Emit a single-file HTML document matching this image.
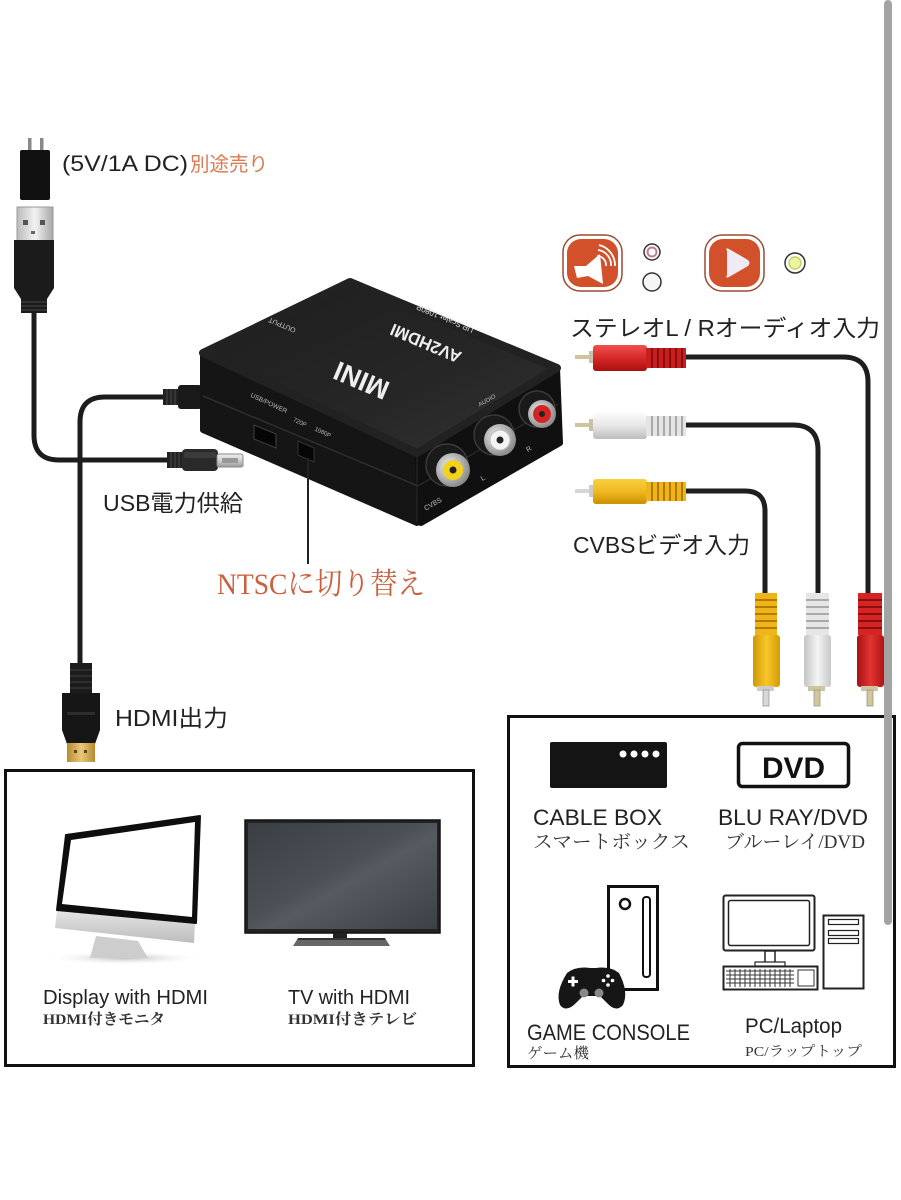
<!DOCTYPE html>
<html><head><meta charset="utf-8"><style>
html,body{margin:0;padding:0;background:#fff;}
svg{display:block;}
.s{font-family:"Liberation Sans","Noto Sans CJK JP",sans-serif;}
.m{font-family:"Liberation Serif","Noto Serif CJK SC",serif;}
</style></head><body>
<svg width="901" height="1200" viewBox="0 0 901 1200" xmlns="http://www.w3.org/2000/svg">
<defs>
<linearGradient id="redV" x1="0" y1="0" x2="0" y2="1"><stop offset="0" stop-color="#f05050"/><stop offset=".5" stop-color="#d82828"/><stop offset="1" stop-color="#a81010"/></linearGradient>
<linearGradient id="whiteV" x1="0" y1="0" x2="0" y2="1"><stop offset="0" stop-color="#fafafa"/><stop offset=".5" stop-color="#e6e6e6"/><stop offset="1" stop-color="#bdbdbd"/></linearGradient>
<linearGradient id="yelV" x1="0" y1="0" x2="0" y2="1"><stop offset="0" stop-color="#f8d040"/><stop offset=".5" stop-color="#f0b820"/><stop offset="1" stop-color="#c99000"/></linearGradient>
<linearGradient id="redH" x1="0" y1="0" x2="1" y2="0"><stop offset="0" stop-color="#a81010"/><stop offset=".5" stop-color="#e23434"/><stop offset="1" stop-color="#b01414"/></linearGradient>
<linearGradient id="whiteH" x1="0" y1="0" x2="1" y2="0"><stop offset="0" stop-color="#c4c4c4"/><stop offset=".5" stop-color="#f4f4f4"/><stop offset="1" stop-color="#c8c8c8"/></linearGradient>
<linearGradient id="yelH" x1="0" y1="0" x2="1" y2="0"><stop offset="0" stop-color="#d09800"/><stop offset=".5" stop-color="#f6c62c"/><stop offset="1" stop-color="#d49c00"/></linearGradient>
<linearGradient id="metal" x1="0" y1="0" x2="0" y2="1"><stop offset="0" stop-color="#f0f0f0"/><stop offset=".5" stop-color="#cfcfcf"/><stop offset="1" stop-color="#9a9a9a"/></linearGradient>
<linearGradient id="metalH" x1="0" y1="0" x2="1" y2="0"><stop offset="0" stop-color="#bbb"/><stop offset=".5" stop-color="#f2f2f2"/><stop offset="1" stop-color="#a8a8a8"/></linearGradient>
<linearGradient id="gold" x1="0" y1="0" x2="1" y2="0"><stop offset="0" stop-color="#b88a30"/><stop offset=".5" stop-color="#e8c878"/><stop offset="1" stop-color="#b88a30"/></linearGradient>
<linearGradient id="topF" x1="0" y1="0" x2="1" y2="1"><stop offset="0" stop-color="#1e1e1e"/><stop offset=".6" stop-color="#262626"/><stop offset="1" stop-color="#333"/></linearGradient>
<linearGradient id="tvG" x1="0" y1="0" x2="1" y2="1"><stop offset="0" stop-color="#3a3f44"/><stop offset=".45" stop-color="#4a5056"/><stop offset=".55" stop-color="#555b61"/><stop offset="1" stop-color="#3c4146"/></linearGradient>
<linearGradient id="chin" x1="0" y1="0" x2="0" y2="1"><stop offset="0" stop-color="#e6e6e6"/><stop offset="1" stop-color="#bcbcbc"/></linearGradient>
<radialGradient id="shadow" cx=".5" cy=".5" r=".5"><stop offset="0" stop-color="#bbb"/><stop offset="1" stop-color="#fff" stop-opacity="0"/></radialGradient>
<radialGradient id="ring" cx=".4" cy=".4" r=".6"><stop offset="0" stop-color="#f5f5f5"/><stop offset="1" stop-color="#8a8a8a"/></radialGradient>
</defs>
<rect width="901" height="1200" fill="#fff"/>

<!-- ===== Power adapter + USB A ===== -->
<rect x="28" y="138" width="3.5" height="14" fill="#888"/>
<rect x="40" y="138" width="3.5" height="14" fill="#888"/>
<rect x="20" y="150" width="30" height="50" rx="2" fill="#111"/>
<rect x="17" y="207" width="36" height="34" fill="url(#metalH)" stroke="#999" stroke-width="1"/>
<rect x="23" y="220" width="5" height="5" fill="#555"/>
<rect x="40" y="220" width="5" height="5" fill="#555"/>
<rect x="31" y="231" width="4" height="3" fill="#666"/>
<path d="M14,240 L54,240 L54,288 L47,299 L47,313 L21,313 L21,299 L14,288 Z" fill="#1b1b1b"/>
<g stroke="#3a3a3a" stroke-width="1.5"><line x1="21" y1="302" x2="47" y2="302"/><line x1="21" y1="306" x2="47" y2="306"/><line x1="21" y1="310" x2="47" y2="310"/></g>
<text class="s" x="62" y="171" font-size="22" fill="#222" textLength="126" lengthAdjust="spacingAndGlyphs">(5V/1A DC)</text>
<text class="s" x="190" y="171" font-size="20" fill="#dc7a52" textLength="78" lengthAdjust="spacingAndGlyphs">別途売り</text>

<!-- USB power cable -->
<path d="M34,313 L34,435 Q34,460 59,460 L168,460" fill="none" stroke="#1c1c1c" stroke-width="5"/>
<rect x="167" y="452" width="16" height="16" fill="#222"/>
<g stroke="#444" stroke-width="1.2"><line x1="171" y1="452" x2="171" y2="468"/><line x1="175" y1="452" x2="175" y2="468"/><line x1="179" y1="452" x2="179" y2="468"/></g>
<rect x="182" y="449" width="36" height="22" rx="4" fill="#2a2a2a"/>
<rect x="184" y="452" width="32" height="6" rx="2" fill="#3c3c3c"/>
<rect x="217" y="454" width="26" height="13" rx="2" fill="url(#metal)" stroke="#888" stroke-width="1"/>
<rect x="222" y="458" width="16" height="5" fill="#999"/>

<!-- HDMI cable -->
<path d="M165,397 L105,397 Q80,397 80,422 L80,665" fill="none" stroke="#1c1c1c" stroke-width="5"/>
<rect x="163" y="389" width="16" height="16" fill="#222"/>
<g stroke="#444" stroke-width="1.2"><line x1="167" y1="389" x2="167" y2="405"/><line x1="171" y1="389" x2="171" y2="405"/><line x1="175" y1="389" x2="175" y2="405"/></g>
<rect x="178" y="385" width="24" height="24" rx="3" fill="#1a1a1a"/>
<rect x="70" y="663" width="22" height="31" fill="#1c1c1c"/>
<g stroke="#3a3a3a" stroke-width="1.3"><line x1="70" y1="670" x2="92" y2="670"/><line x1="70" y1="676" x2="92" y2="676"/><line x1="70" y1="682" x2="92" y2="682"/><line x1="70" y1="688" x2="92" y2="688"/></g>
<path d="M62,693 L100,693 L100,730 L95,744 L67,744 L62,730 Z" fill="#161616"/>
<rect x="67" y="712" width="28" height="3" fill="#2e2e2e"/>
<rect x="67" y="743" width="28" height="19" fill="url(#gold)"/>
<rect x="74" y="750" width="3" height="3" fill="#5a4a20"/><rect x="84" y="750" width="3" height="3" fill="#5a4a20"/>

<text class="s" x="103" y="511" font-size="23" fill="#222" textLength="140" lengthAdjust="spacingAndGlyphs">USB電力供給</text>
<text class="s" x="115" y="726" font-size="23" fill="#222" textLength="113" lengthAdjust="spacingAndGlyphs">HDMI出力</text>

<!-- ===== Device ===== -->
<g stroke-linejoin="round">
<polygon points="203,353 417,453 417,523 203,430" fill="#151515" stroke="#151515" stroke-width="6"/>
<polygon points="417,453 557,368 560,443 421,523" fill="#101010" stroke="#101010" stroke-width="6"/>
<polygon points="203,353 350,282 557,368 417,453" fill="url(#topF)" stroke="#222" stroke-width="8"/>
</g>
<line x1="203" y1="396" x2="418" y2="486" stroke="#2e2e2e" stroke-width="1.5"/>
<line x1="418" y1="486" x2="558" y2="404" stroke="#262626" stroke-width="1.5"/>
<line x1="417" y1="455" x2="417" y2="522" stroke="#2a2a2a" stroke-width="1"/>
<!-- top labels (upside down) -->
<text class="s" transform="translate(365,372) rotate(203)" text-anchor="middle" font-size="27" font-weight="bold" fill="#eee">MINI</text>
<text class="s" transform="translate(428,338) rotate(203)" text-anchor="middle" font-size="17" font-weight="bold" fill="#eee">AV2HDMI</text>
<text class="s" transform="translate(446,316) rotate(203)" text-anchor="middle" font-size="8" fill="#ddd">UP Scaler 1080P</text>
<text class="s" transform="translate(283,323) rotate(203)" text-anchor="middle" font-size="7" fill="#ccc">OUTPUT</text>
<text class="s" transform="translate(268,405) rotate(25)" text-anchor="middle" font-size="6.5" fill="#bbb">USB/POWER</text>
<text class="s" transform="translate(299,424) rotate(25)" text-anchor="middle" font-size="6" fill="#bbb">720P</text>
<text class="s" transform="translate(322,434) rotate(25)" text-anchor="middle" font-size="6" fill="#bbb">1080P</text>
<text class="s" transform="translate(488,402) rotate(-30)" text-anchor="middle" font-size="6" fill="#bbb">AUDIO</text>
<text class="s" transform="translate(434,506) rotate(-30)" text-anchor="middle" font-size="7" fill="#bbb">CVBS</text>
<text class="s" transform="translate(484,480) rotate(-30)" text-anchor="middle" font-size="7" fill="#bbb">L</text>
<text class="s" transform="translate(530,451) rotate(-30)" text-anchor="middle" font-size="7" fill="#bbb">R</text>
<!-- ports -->
<polygon points="254,425 276,434 276,448 254,439" fill="#050505" stroke="#3a3a3a" stroke-width="1.2"/>
<polygon points="298,441 314,448 314,462 298,455" fill="#050505" stroke="#333" stroke-width="1"/>
<!-- jacks -->
<circle cx="447" cy="465" r="21" fill="#1a1a1a" stroke="#3a3a3a" stroke-width="1.5"/>
<circle cx="453" cy="470" r="17" fill="url(#ring)"/>
<circle cx="453" cy="470" r="10" fill="#f3d21c"/>
<circle cx="453" cy="470" r="3.5" fill="#222"/>
<circle cx="494" cy="435" r="20" fill="#1a1a1a" stroke="#3a3a3a" stroke-width="1.5"/>
<circle cx="500" cy="440" r="16" fill="url(#ring)"/>
<circle cx="500" cy="440" r="10" fill="#f4f4f4" stroke="#bbb" stroke-width="1"/>
<circle cx="500" cy="440" r="3.5" fill="#222"/>
<circle cx="537" cy="409" r="18" fill="#1a1a1a" stroke="#3a3a3a" stroke-width="1.5"/>
<circle cx="542" cy="414" r="14" fill="url(#ring)"/>
<circle cx="542" cy="414" r="9" fill="#d42424"/>
<circle cx="542" cy="414" r="3" fill="#222"/>

<!-- NTSC pointer -->
<line x1="308" y1="458" x2="308" y2="564" stroke="#222" stroke-width="2"/>
<text class="m" x="217" y="594" font-size="30" fill="#c9603f" textLength="208" lengthAdjust="spacingAndGlyphs">NTSCに切り替え</text>

<!-- ===== Icons ===== -->
<rect x="563" y="235" width="59" height="56" rx="17" fill="#fff" stroke="#9c4a34" stroke-width="1.5"/>
<rect x="567" y="239" width="51" height="48" rx="14" fill="#d2512b"/>
<polygon points="574,266 586,266 600,254 603,284 588,276 577,278" fill="#fff"/>
<g fill="none" stroke="#fff" stroke-width="1.8">
<path d="M597,256 A9,9 0 0 1 606,266"/>
<path d="M598,250 A15,15 0 0 1 611,266"/>
<path d="M599,245 A21,21 0 0 1 615,266"/>
</g>
<circle cx="652" cy="252" r="8" fill="#fff" stroke="#333" stroke-width="1.5"/>
<circle cx="652" cy="252" r="4.5" fill="#fff" stroke="#c87890" stroke-width="2"/>
<circle cx="652" cy="282" r="9" fill="#f6f6f6" stroke="#333" stroke-width="1.5"/>
<rect x="705" y="235" width="59" height="56" rx="17" fill="#fff" stroke="#9c4a34" stroke-width="1.5"/>
<rect x="709" y="239" width="51" height="48" rx="14" fill="#d2512b"/>
<path d="M727,251 Q725,247 729,249 L748,260 Q751,263 748,266 L729,277 Q725,279 727,275 Z" fill="#efeaf4"/>
<circle cx="795" cy="263" r="10" fill="#fff" stroke="#333" stroke-width="1.5"/>
<circle cx="795" cy="263" r="6" fill="#eef5a0" stroke="#c8d060" stroke-width="1.5"/>

<text class="s" x="570" y="336" font-size="23" fill="#222" textLength="310" lengthAdjust="spacingAndGlyphs">ステレオL / Rオーディオ入力</text>
<text class="s" x="573" y="553" font-size="23" fill="#222" textLength="177" lengthAdjust="spacingAndGlyphs">CVBSビデオ入力</text>

<!-- ===== RCA cables ===== -->
<g fill="none" stroke="#1e1e1e" stroke-width="5">
<path d="M684,357 L843,357 Q868,357 868,382 L868,595"/>
<path d="M684,425 L793,425 Q818,425 818,450 L818,595"/>
<path d="M684,491 L745,491 Q765,491 765,511 L765,595"/>
</g>
<!-- horizontal plugs -->
<g>
<rect x="575" y="355" width="17" height="4" fill="#cfc4a0"/><rect x="589" y="351" width="5" height="12" fill="#c8c0a8"/>
<rect x="593" y="345" width="54" height="26" rx="3" fill="url(#redV)"/>
<rect x="646" y="348" width="40" height="20" fill="#c81e1e"/>
<g stroke="#8a0e0e" stroke-width="2"><line x1="652" y1="348" x2="652" y2="368"/><line x1="658" y1="348" x2="658" y2="368"/><line x1="664" y1="348" x2="664" y2="368"/><line x1="670" y1="348" x2="670" y2="368"/><line x1="676" y1="348" x2="676" y2="368"/><line x1="682" y1="348" x2="682" y2="368"/></g>

<rect x="575" y="423" width="17" height="4" fill="#cfc4a0"/><rect x="589" y="419" width="5" height="12" fill="#c8c0a8"/>
<rect x="593" y="413" width="54" height="26" rx="3" fill="url(#whiteV)"/>
<rect x="646" y="416" width="40" height="20" fill="#e4e4e4"/>
<g stroke="#a8a8a8" stroke-width="2"><line x1="652" y1="416" x2="652" y2="436"/><line x1="658" y1="416" x2="658" y2="436"/><line x1="664" y1="416" x2="664" y2="436"/><line x1="670" y1="416" x2="670" y2="436"/><line x1="676" y1="416" x2="676" y2="436"/><line x1="682" y1="416" x2="682" y2="436"/></g>

<rect x="575" y="489" width="17" height="4" fill="#d6d6d6"/><rect x="589" y="485" width="5" height="12" fill="#ccc"/>
<rect x="593" y="479" width="54" height="25" rx="3" fill="url(#yelV)"/>
<rect x="646" y="482" width="40" height="19" fill="#eeb418"/>
<g stroke="#b07a00" stroke-width="2"><line x1="652" y1="482" x2="652" y2="501"/><line x1="658" y1="482" x2="658" y2="501"/><line x1="664" y1="482" x2="664" y2="501"/><line x1="670" y1="482" x2="670" y2="501"/><line x1="676" y1="482" x2="676" y2="501"/><line x1="682" y1="482" x2="682" y2="501"/></g>
</g>
<!-- vertical plugs -->
<g>
<rect x="755" y="593" width="22" height="42" fill="#efb418"/>
<g stroke="#b07a00" stroke-width="2"><line x1="755" y1="600" x2="777" y2="600"/><line x1="755" y1="607" x2="777" y2="607"/><line x1="755" y1="614" x2="777" y2="614"/><line x1="755" y1="621" x2="777" y2="621"/><line x1="755" y1="628" x2="777" y2="628"/></g>
<rect x="753" y="635" width="27" height="52" rx="3" fill="url(#yelH)"/>
<rect x="757" y="686" width="17" height="5" fill="#ccc"/>
<rect x="763" y="690" width="6" height="16" fill="#d8d8d8" stroke="#999" stroke-width=".8"/>

<rect x="806" y="593" width="23" height="42" fill="#e6e6e6"/>
<g stroke="#aaa" stroke-width="2"><line x1="806" y1="600" x2="829" y2="600"/><line x1="806" y1="607" x2="829" y2="607"/><line x1="806" y1="614" x2="829" y2="614"/><line x1="806" y1="621" x2="829" y2="621"/><line x1="806" y1="628" x2="829" y2="628"/></g>
<rect x="804" y="635" width="27" height="52" rx="3" fill="url(#whiteH)"/>
<rect x="808" y="686" width="17" height="5" fill="#cfc4a0"/>
<rect x="814" y="690" width="6" height="16" fill="#d2c69a" stroke="#998" stroke-width=".8"/>

<rect x="858" y="593" width="24" height="42" fill="#d42424"/>
<g stroke="#8a0e0e" stroke-width="2"><line x1="858" y1="600" x2="882" y2="600"/><line x1="858" y1="607" x2="882" y2="607"/><line x1="858" y1="614" x2="882" y2="614"/><line x1="858" y1="621" x2="882" y2="621"/><line x1="858" y1="628" x2="882" y2="628"/></g>
<rect x="857" y="635" width="27" height="52" rx="3" fill="url(#redH)"/>
<rect x="861" y="686" width="17" height="5" fill="#cfc4a0"/>
<rect x="867" y="690" width="6" height="16" fill="#d2c69a" stroke="#998" stroke-width=".8"/>
</g>

<!-- ===== Left box (displays) ===== -->
<rect x="5.5" y="770.5" width="468" height="295" fill="#fff" stroke="#111" stroke-width="3"/>
<ellipse cx="125" cy="958" rx="80" ry="7" fill="url(#shadow)"/>
<polygon points="96,936 138,941 148,958 90,958" fill="#cdcdcd"/>
<polygon points="57,910 195,922 194,943 55,928" fill="url(#chin)"/>
<polygon points="66,835 200,816 196,923 57,910" fill="#0e0e0e" stroke="#0e0e0e" stroke-width="2" stroke-linejoin="round"/>
<polygon points="71,840 195,822 192,917 62,904" fill="#fff"/>
<text class="s" x="43" y="1004" font-size="20" fill="#222" textLength="165" lengthAdjust="spacingAndGlyphs">Display with HDMI</text>
<text class="m" x="43" y="1024" font-size="15" font-weight="bold" fill="#333" textLength="122" lengthAdjust="spacingAndGlyphs">HDMI付きモニタ</text>

<rect x="245" y="820" width="195" height="113" fill="#222" stroke="#111" stroke-width="1.5"/>
<rect x="248" y="823" width="189" height="106" fill="url(#tvG)"/>
<rect x="333" y="933" width="14" height="6" fill="#222"/>
<polygon points="298,938 385,938 390,946 293,946" fill="#666"/>
<rect x="298" y="938" width="87" height="2" fill="#333"/>
<text class="s" x="288" y="1004" font-size="20" fill="#222" textLength="122" lengthAdjust="spacingAndGlyphs">TV with HDMI</text>
<text class="m" x="288" y="1024" font-size="15" font-weight="bold" fill="#333" textLength="129" lengthAdjust="spacingAndGlyphs">HDMI付きテレビ</text>

<!-- ===== Right box (sources) ===== -->
<rect x="508.5" y="716.5" width="386" height="350" fill="#fff" stroke="#111" stroke-width="3"/>
<rect x="550" y="742" width="117" height="46" rx="2" fill="#141414"/>
<circle cx="623" cy="754" r="3.5" fill="#fff"/><circle cx="634" cy="754" r="3.5" fill="#fff"/><circle cx="645" cy="754" r="3.5" fill="#fff"/><circle cx="656" cy="754" r="3.5" fill="#fff"/>
<rect x="738.5" y="743.5" width="110" height="43" rx="4" fill="#fff" stroke="#111" stroke-width="3.5"/>
<text class="s" x="762" y="778" font-size="30" font-weight="bold" fill="#111" textLength="63" lengthAdjust="spacingAndGlyphs">DVD</text>
<text class="s" x="533" y="825" font-size="22" fill="#222" textLength="129" lengthAdjust="spacingAndGlyphs">CABLE BOX</text>
<text class="m" x="533" y="848" font-size="19" fill="#333" textLength="157" lengthAdjust="spacingAndGlyphs">スマートボックス</text>
<text class="s" x="718" y="825" font-size="22" fill="#222" textLength="150" lengthAdjust="spacingAndGlyphs">BLU RAY/DVD</text>
<text class="m" x="725" y="848" font-size="19" fill="#333" textLength="140" lengthAdjust="spacingAndGlyphs">ブルーレイ/DVD</text>

<!-- game console -->
<rect x="608.5" y="886.5" width="49" height="103" fill="#fff" stroke="#111" stroke-width="3"/>
<circle cx="625" cy="904" r="5" fill="#fff" stroke="#111" stroke-width="2.5"/>
<rect x="643" y="897" width="7" height="80" rx="3" fill="#fff" stroke="#111" stroke-width="2"/>
<path d="M567,973 Q576,966 590,968 L596,968 Q610,966 619,973 Q629,992 623,1005 Q616,1013 607,1003 L600,996 L583,996 L576,1003 Q566,1013 560,1005 Q555,992 567,973 Z" fill="#161616"/>
<rect x="568" y="980" width="10" height="3" fill="#fff"/><rect x="571.5" y="976.5" width="3" height="10" fill="#fff"/>
<circle cx="608" cy="976" r="1.8" fill="#fff"/><circle cx="608" cy="985" r="1.8" fill="#fff"/><circle cx="603.5" cy="980.5" r="1.8" fill="#fff"/><circle cx="612.5" cy="980.5" r="1.8" fill="#fff"/>
<circle cx="584" cy="993" r="4.5" fill="#888"/><circle cx="599" cy="993" r="4.5" fill="#888"/>
<text class="s" x="527" y="1040" font-size="22" fill="#222" textLength="163" lengthAdjust="spacingAndGlyphs">GAME CONSOLE</text>
<text class="m" x="527" y="1058" font-size="15" fill="#333" textLength="62" lengthAdjust="spacingAndGlyphs">ゲーム機</text>

<!-- PC -->
<rect x="723.5" y="895.5" width="91" height="55" rx="2" fill="#fff" stroke="#222" stroke-width="2"/>
<rect x="728.5" y="900.5" width="81" height="45" rx="2" fill="#fff" stroke="#222" stroke-width="1.5"/>
<rect x="765" y="951" width="10" height="12" fill="#fff" stroke="#222" stroke-width="1.5"/>
<rect x="755" y="962" width="30" height="4" fill="#fff" stroke="#222" stroke-width="1.2"/>
<rect x="723.5" y="966.5" width="94" height="23" fill="#fff" stroke="#222" stroke-width="2"/>
<g stroke="#333" stroke-width="1">
<line x1="726" y1="971" x2="794" y2="971"/><line x1="726" y1="975" x2="794" y2="975"/><line x1="726" y1="979" x2="794" y2="979"/><line x1="726" y1="983" x2="794" y2="983"/>
<line x1="730" y1="969" x2="730" y2="987"/><line x1="735" y1="969" x2="735" y2="987"/><line x1="740" y1="969" x2="740" y2="987"/><line x1="745" y1="969" x2="745" y2="987"/><line x1="750" y1="969" x2="750" y2="987"/><line x1="755" y1="969" x2="755" y2="987"/><line x1="760" y1="969" x2="760" y2="987"/><line x1="765" y1="969" x2="765" y2="987"/><line x1="770" y1="969" x2="770" y2="987"/><line x1="775" y1="969" x2="775" y2="987"/><line x1="780" y1="969" x2="780" y2="987"/><line x1="785" y1="969" x2="785" y2="987"/><line x1="790" y1="969" x2="790" y2="987"/>
<rect x="798" y="970" width="16" height="16" fill="none"/>
</g>
<rect x="823.5" y="915.5" width="40" height="73" fill="#fff" stroke="#222" stroke-width="2"/>
<rect x="828.5" y="919.5" width="30" height="5" fill="#fff" stroke="#222" stroke-width="1.2"/>
<rect x="828.5" y="930.5" width="30" height="5" fill="#fff" stroke="#222" stroke-width="1.2"/>
<rect x="828.5" y="938.5" width="30" height="5" fill="#fff" stroke="#222" stroke-width="1.2"/>
<text class="s" x="745" y="1033" font-size="21" fill="#222" textLength="97" lengthAdjust="spacingAndGlyphs">PC/Laptop</text>
<text class="m" x="745" y="1056" font-size="14" fill="#333" textLength="117" lengthAdjust="spacingAndGlyphs">PC/ラップトップ</text>

<!-- scrollbar -->
<rect x="884" y="0" width="8" height="925" rx="4" fill="#a3a3a3"/>
</svg>
</body></html>
